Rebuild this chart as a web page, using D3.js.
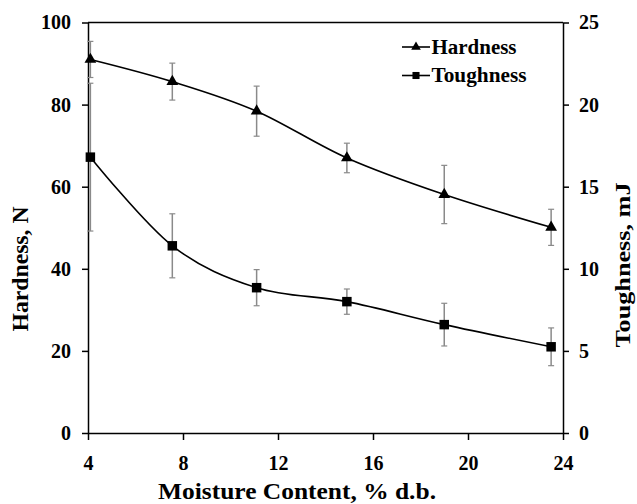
<!DOCTYPE html>
<html>
<head>
<meta charset="utf-8">
<script src="https://cdn.jsdelivr.net/npm/d3@7/dist/d3.min.js"></script>
<style>
  html, body { margin: 0; padding: 0; background: #fff; }
  svg { display: block; }
</style>
</head>
<body>
<svg id="chart" width="637" height="504"></svg>
<script>
// ---- data ----
const moisture = [4.1, 7.55, 11.1, 14.9, 19.0, 23.5];
const hardness = [91.0, 85.6, 78.4, 67.0, 58.1, 50.1];
const hardnessErr = [4.4, 4.5, 6.1, 3.6, 7.1, 4.4];
const toughness = [16.8, 11.4, 8.85, 8.0, 6.6, 5.25];
const toughnessErr = [4.5, 1.95, 1.1, 0.77, 1.3, 1.15];
const xTicks = [4, 8, 12, 16, 20, 24];
const yLeftTicks = [0, 20, 40, 60, 80, 100];
const yRightTicks = [0, 5, 10, 15, 20, 25];
const seriesNames = ["Hardness", "Toughness"];
const xTitle = "Moisture Content, % d.b.";
const yLeftTitle = "Hardness, N";
const yRightTitle = "Toughness, mJ";

const FONT = "Liberation Serif";

// ---- layout ----
const svg = d3.select("#chart");
const L = 88, R = 563, T = 22.5, B = 433;

const x = d3.scaleLinear().domain([4, 24]).range([L, R]);
const yL = d3.scaleLinear().domain([0, 100]).range([B, T]);
const yR = d3.scaleLinear().domain([0, 25]).range([B, T]);

svg.append("line").attr("x1", L).attr("x2", R).attr("y1", T).attr("y2", T)
  .attr("stroke", "#000").attr("stroke-width", 1.5);

function styleAxis(g) {
  g.attr("font-family", FONT).attr("font-weight", "bold").attr("font-size", 20);
  g.select(".domain").attr("stroke", "#000").attr("stroke-width", 1.5);
  g.selectAll(".tick line").attr("stroke", "#000").attr("stroke-width", 1.5);
  g.selectAll(".tick text").attr("fill", "#000");
}

const xAxis = svg.append("g").attr("transform", `translate(0,${B})`)
  .call(d3.axisBottom(x).tickValues(xTicks).tickSize(7).tickSizeOuter(0).tickPadding(16).tickFormat(d3.format("d")));
styleAxis(xAxis);

const yAxisL = svg.append("g").attr("transform", `translate(${L},0)`)
  .call(d3.axisLeft(yL).tickValues(yLeftTicks).tickSize(6).tickSizeOuter(0).tickPadding(11).tickFormat(d3.format("d")));
styleAxis(yAxisL);

const yAxisR = svg.append("g").attr("transform", `translate(${R},0)`)
  .call(d3.axisRight(yR).tickValues(yRightTicks).tickSize(6).tickSizeOuter(0).tickPadding(10).tickFormat(d3.format("d")));
styleAxis(yAxisR);

function label(sel, size) {
  return sel.attr("font-family", FONT).attr("font-weight", "bold").attr("font-size", size).attr("fill", "#000");
}

// titles
label(svg.append("text").attr("x", 297).attr("y", 499)
  .attr("text-anchor", "middle").attr("textLength", 278).attr("lengthAdjust", "spacingAndGlyphs")
  .text(xTitle), 23);
label(svg.append("text").attr("transform", `translate(28,269) rotate(-90)`)
  .attr("text-anchor", "middle").attr("textLength", 125).attr("lengthAdjust", "spacingAndGlyphs")
  .text(yLeftTitle), 23);
label(svg.append("text").attr("transform", `translate(630,265) rotate(-90)`)
  .attr("text-anchor", "middle").attr("textLength", 165).attr("lengthAdjust", "spacingAndGlyphs")
  .text(yRightTitle), 22);

// error bars
const errColor = "#8a8a8a";
function errorBars(vals, errs, y) {
  const g = svg.append("g");
  moisture.forEach((m, i) => {
    const cx = x(m), y1 = y(vals[i] + errs[i]), y2 = y(vals[i] - errs[i]);
    g.append("line").attr("x1", cx).attr("x2", cx).attr("y1", y1).attr("y2", y2)
      .attr("stroke", errColor).attr("stroke-width", 1.5);
    [y1, y2].forEach(yy => g.append("line").attr("x1", cx - 3).attr("x2", cx + 3)
      .attr("y1", yy).attr("y2", yy).attr("stroke", errColor).attr("stroke-width", 1.2));
  });
}
errorBars(hardness, hardnessErr, yL);
errorBars(toughness, toughnessErr, yR);

// lines
const curve = d3.curveCardinal.tension(0);
const lineH = d3.line().x((d, i) => x(moisture[i])).y(d => yL(d)).curve(curve);
const lineT = d3.line().x((d, i) => x(moisture[i])).y(d => yR(d)).curve(curve);
svg.append("path").attr("d", lineH(hardness)).attr("fill", "none").attr("stroke", "#000").attr("stroke-width", 1.6);
svg.append("path").attr("d", lineT(toughness)).attr("fill", "none").attr("stroke", "#000").attr("stroke-width", 1.6);

// markers
const tri = d3.symbol().type(d3.symbolTriangle).size(60);
const sq = d3.symbol().type(d3.symbolSquare).size(90);
svg.append("g").selectAll("path").data(hardness).join("path")
  .attr("d", tri).attr("transform", (d, i) => `translate(${x(moisture[i])},${yL(d)})`).attr("fill", "#000");
svg.append("g").selectAll("path").data(toughness).join("path")
  .attr("d", sq).attr("transform", (d, i) => `translate(${x(moisture[i])},${yR(d)})`).attr("fill", "#000");

// legend
const legend = svg.append("g");
const legY = [47, 75.5];
const legLen = [85, 95];
seriesNames.forEach((name, i) => {
  legend.append("line").attr("x1", 402).attr("x2", 430).attr("y1", legY[i]).attr("y2", legY[i])
    .attr("stroke", "#000").attr("stroke-width", 1.6);
  legend.append("path").attr("d", i === 0 ? d3.symbol().type(d3.symbolTriangle).size(40)() : d3.symbol().type(d3.symbolSquare).size(50)())
    .attr("transform", `translate(416,${legY[i]})`).attr("fill", "#000");
  label(legend.append("text").attr("x", 431.5).attr("y", legY[i] + 6.5)
    .attr("textLength", legLen[i]).attr("lengthAdjust", "spacingAndGlyphs").text(name), 20);
});
</script>
</body>
</html>
